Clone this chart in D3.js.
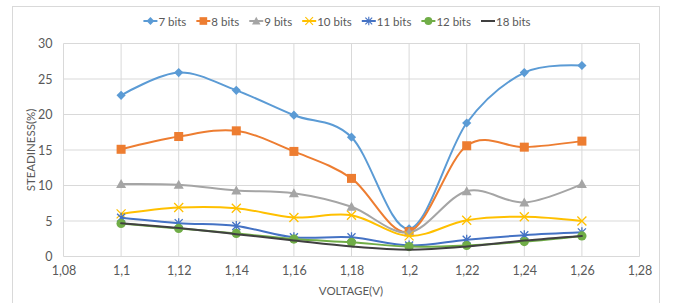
<!DOCTYPE html>
<html><head><meta charset="utf-8">
<script src="https://cdn.jsdelivr.net/npm/d3@7"></script>
<style>
body{margin:0;background:#fff;}
text{font-family:Lato,"Open Sans",sans-serif;fill:#595959;}
</style></head>
<body><svg id="c" width="674" height="303"></svg>
<script>
const voltages = [1.10, 1.12, 1.14, 1.16, 1.18, 1.20, 1.22, 1.24, 1.26];
const seriesNames = ["7 bits","8 bits","9 bits","10 bits","11 bits","12 bits","18 bits"];
const bits7  = [22.7, 25.9, 23.4, 19.9, 16.8, 3.9, 18.8, 25.9, 26.9];
const bits8  = [15.1, 16.9, 17.7, 14.8, 11.0, 3.5, 15.6, 15.4, 16.25];
const bits9  = [10.2, 10.1, 9.3, 8.9, 7.0, 3.4, 9.2, 7.6, 10.2];
const bits10 = [6.0, 6.9, 6.8, 5.5, 5.8, 2.9, 5.1, 5.6, 5.0];
const bits11 = [5.45, 4.7, 4.3, 2.7, 2.7, 1.55, 2.35, 3.0, 3.4];
const bits12 = [4.65, 3.95, 3.25, 2.45, 2.0, 1.4, 1.55, 2.1, 2.9];
const bits18 = [4.7, 4.0, 3.15, 2.25, 1.4, 0.95, 1.4, 2.25, 2.9];
const xTicks = [1.08,1.10,1.12,1.14,1.16,1.18,1.20,1.22,1.24,1.26,1.28];
const yTicks = [0,5,10,15,20,25,30];
const colors = ["#5B9BD5","#ED7D31","#A5A5A5","#FFC000","#4472C4","#70AD47","#404040"];
const markers = ["diamond","square","triangle","x","star","circle","none"];
const allSeries = [bits7,bits8,bits9,bits10,bits11,bits12,bits18];

const svg = d3.select("#c");
svg.append("rect").attr("x",12.5).attr("y",6.5).attr("width",647).attr("height",310)
  .attr("fill","none").attr("stroke","#d9d9d9").attr("stroke-width",1);

const x = d3.scaleLinear().domain([1.08,1.28]).range([63.5,639.5]);
const y = d3.scaleLinear().domain([0,30]).range([256.5,43.5]);
const fmt = d => d3.format(".2~f")(d).replace(".",",");

const g = svg.append("g");
g.selectAll(".hy").data(yTicks).join("line")
  .attr("x1",x(1.08)).attr("x2",x(1.28)).attr("y1",d=>y(d)).attr("y2",d=>y(d))
  .attr("stroke","#d9d9d9").attr("stroke-width",1);
g.selectAll(".vx").data(xTicks).join("line")
  .attr("y1",y(0)).attr("y2",y(30)).attr("x1",d=>x(d)).attr("x2",d=>x(d))
  .attr("stroke","#d9d9d9").attr("stroke-width",1);

const xa = svg.append("g").attr("transform",`translate(0,${y(0)})`)
  .call(d3.axisBottom(x).tickValues(xTicks).tickFormat(fmt).tickSize(0).tickPadding(10));
const ya = svg.append("g").attr("transform",`translate(${x(1.08)},0)`)
  .call(d3.axisLeft(y).tickValues(yTicks).tickSize(0).tickPadding(11));
[xa,ya].forEach(a=>{a.select(".domain").remove();
  a.selectAll("text").attr("font-family","Lato,'Open Sans',sans-serif").attr("font-size",12.5).attr("fill","#595959");});

svg.append("text").attr("x",351).attr("y",295).attr("text-anchor","middle")
  .attr("font-size",11.5).text("VOLTAGE(V)");
svg.append("text").attr("transform","translate(35,150) rotate(-90)").attr("text-anchor","middle")
  .attr("font-size",11.5).text("STEADINESS(%)");

function drawMarker(sel, type, color){
  const s = 4.6;
  if(type==="diamond") sel.append("path").attr("d",`M0,${-s}L${s},0L0,${s}L${-s},0Z`).attr("fill",color);
  else if(type==="square") sel.append("rect").attr("x",-4.5).attr("y",-4.5).attr("width",9).attr("height",9).attr("fill",color);
  else if(type==="triangle") sel.append("path").attr("d",`M0,-5L5,4L-5,4Z`).attr("fill",color);
  else if(type==="circle") sel.append("circle").attr("r",4.6).attr("fill",color);
  else if(type==="x") sel.append("path").attr("d","M-4.5,-4.5L4.5,4.5M-4.5,4.5L4.5,-4.5").attr("stroke",color).attr("stroke-width",1.3).attr("fill","none");
  else if(type==="star") sel.append("path").attr("d","M-4,-4L4,4M-4,4L4,-4M0,-5L0,5").attr("stroke",color).attr("stroke-width",1.3).attr("fill","none");
}

const line = d3.line().x((d,i)=>x(voltages[i])).y(d=>y(d)).curve(d3.curveCardinal.tension(0));
allSeries.forEach((vals,si)=>{
  const sg = svg.append("g");
  sg.append("path").attr("d",line(vals)).attr("fill","none")
    .attr("stroke",colors[si]).attr("stroke-width",2).attr("stroke-linecap","round");
  if(markers[si]!=="none"){
    vals.forEach((v,i)=>{
      const m = sg.append("g").attr("transform",`translate(${x(voltages[i])},${y(v)})`);
      drawMarker(m, markers[si], colors[si]);
    });
  }
});

const lg = svg.append("g");
const items = seriesNames.map((n,i)=>{
  const it = lg.append("g");
  it.append("line").attr("x1",0).attr("x2",14).attr("y1",0).attr("y2",0).attr("stroke",colors[i]).attr("stroke-width",2);
  if(markers[i]!=="none"){ const m = it.append("g").attr("transform","translate(7,0) scale(0.85)"); drawMarker(m,markers[i],colors[i]); }
  const t = it.append("text").attr("x",15).attr("y",4.5).attr("font-size",11.5).text(n);
  return {it, w: 15 + t.node().getComputedTextLength()};
});
const gap = 10;
const total = d3.sum(items,d=>d.w) + gap*(items.length-1);
let cx = 337 - total/2;
items.forEach(d=>{ d.it.attr("transform",`translate(${cx},21)`); cx += d.w + gap; });
</script></body></html>
